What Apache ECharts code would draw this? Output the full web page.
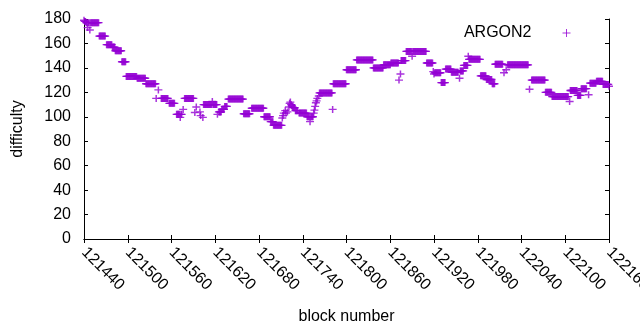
<!DOCTYPE html>
<html>
<head>
<meta charset="utf-8">
<script src="https://cdn.jsdelivr.net/npm/echarts@6/dist/echarts.min.js"></script>
<style>
    html, body { margin: 0; padding: 0; background: #fff; }
    #main { width: 640px; height: 330px; }
</style>
</head>
<body>
<div id="main"></div>
<script>
// block numbers on the x axis and the tick values
const firstBlock = 121440
const xTicks = [121440, 121500, 121560, 121620, 121680, 121740, 121800, 121860, 121920, 121980, 122040, 122100, 122160]
const yTicks = [0, 20, 40, 60, 80, 100, 120, 140, 160, 180]
const seriesName = 'ARGON2'

// difficulty of each block, starting at firstBlock (null = no point seen)
const difficulty = [
    179, 178, 178, 177, 177, 173, 177, 177, 171, 177,
    177, 177, 177, 177, 177, 177, 177, 177, 177, 177,
    177, 166, 166, 166, 166, 166, 166, 166, 166, 166,
    null, 159, 159, 159, 159, 159, 159, 159, 159, 157,
    157, 157, 157, 154, 154, 154, 154, 154, 154, 154,
    154, 154, 145, 145, 145, 145, 145, 145, 133, 133,
    133, 133, 133, 133, 133, 133, 133, 133, 133, 133,
    133, 133, 133, 131.5, 131.5, 131.5, 131.5, 131.5, 131.5, 131.5,
    131.5, 131.5, 131.5, 131.5, 131.5, 127, 127, 127, 127, 127,
    127, 127, 127, 127, 127, 127, 127, 127, 127, 115,
    null, null, 122, null, null, null, 115, 115, 115, 115,
    115, 115, 115, 115, 115, 115, null, 111, 111, 111,
    111, 111, 111, 111, 111, null, null, 102, 102, 102,
    102, 102, 99.5, 102, 102, null, 106, null, 115, 115,
    115, 115, 115, 115, 115, 115, 115, 115, 115, 115,
    115, null, 103.5, null, 108, null, null, null, null, 104,
    101, null, null, 99.5, 110, 110, 110, 110, 110, 110,
    110, 110, 110, 110, 110, 110, 112.5, 110, 110, 110,
    110, 110, 110, 102, null, 104, 104, 104, 104, 106,
    106, 106, 106, 108.5, 108.5, 108.5, 108.5, null, 114.5, 114.5,
    114.5, 114.5, 114.5, 114.5, 114.5, 114.5, 114.5, 114.5, 114.5, 114.5,
    114.5, 114.5, 114.5, 114.5, 114.5, 114.5, 114.5, 114.5, 114.5, 102.5,
    102.5, 102.5, 102.5, 102.5, 102.5, 102.5, 102.5, 102.5, null, null,
    107, 107, 107, 107, 107, 107, 107, 107, 107, 107,
    107, 107, 107, 107, 107, 107, 107, 100, 100, 100,
    100, 100, 100, 100, 100, 100, 96, 96, 96, 96,
    93, 93, 93, 93, 93, 93, 93, 93, 93, 93,
    93, 93, 99, 101, 103, null, 105, 103, null, 104,
    null, 108, 111, 112, 110, 109, 108, 107.5, 107.5, 107.5,
    105, 105, 105, 105, null, 103, 103, 103, 103, 103,
    103, 103, 103, 103, 103, 103, 100, 100, 100, 100,
    96, 100, 100, 100, 100, 103, 105.5, 108.5, 111.5, 113,
    115, null, 117, 119.5, 119.5, 119.5, 119.5, 119.5, 119.5, 119.5,
    119.5, 119.5, 119.5, 119.5, 119.5, 119.5, 119.5, 119.5, 119.5, 119.5,
    119.5, 106, 127, 127, 127, 127, 127, 127, 127, 127,
    127, 127, 127, 127, 127, 127, 127, 127, 127, 127,
    138.5, 138.5, 138.5, 138.5, 138.5, 138.5, 138.5, 138.5, 138.5, 138.5,
    138.5, 138.5, 138.5, 138.5, 146.5, 146.5, 146.5, 146.5, 146.5, 146.5,
    146.5, 146.5, 146.5, 146.5, 146.5, 146.5, 146.5, 146.5, 146.5, 146.5,
    146.5, 146.5, 146.5, 146.5, 146.5, 146.5, 146.5, 140, 140, 140,
    140, 140, 140, 140, 140, 140, 140, 140, 140, 140,
    140, 142.5, 142.5, 142.5, 142.5, 142.5, 142.5, 142.5, 142.5, 142.5,
    142.5, 144, 144, 144, 144, 144, 144, 144, 144, 144,
    144, 144, 130, null, 135, 146, 146, 146, 146, 146,
    146, 146, 153.5, 153.5, 153.5, 153.5, 153.5, 153.5, 153.5, 153.5,
    149.5, 153.5, 153.5, 153.5, 153.5, 153.5, 153.5, 153.5, 153.5, 153.5,
    153.5, 153.5, 153.5, 153.5, 153.5, 153.5, 153.5, 153.5, 153.5, 153.5,
    144, 144, 144, 144, 144, 144, 144, 144, 144, 137,
    135, 136, 136, 136, 136, 136, 136, 136, 136, 136,
    128, 128, 128, 128, 128, 128, 139, 139, 139, 139,
    139, 139, 139, 139, 136.5, 136.5, 136.5, 136.5, 136.5, 136.5,
    136.5, 136.5, 136.5, 136.5, null, 131.5, 137.5, 137.5, 137.5, 137.5,
    137.5, 142, 142, 142, 142, 142, 142, 149.5, 147, 147,
    147, 147, 147, 147, 147, 147, 147, 147, 147, 147,
    147, 147, 147, 147, 133.5, 133.5, 133.5, 133.5, 133.5, 133.5,
    133.5, 133.5, 130.5, 130.5, 130.5, 130.5, 130.5, 130.5, 130.5, 130.5,
    127, 127, 127, 127, 143, 143, 143, 143, 143, 143,
    143, 143, 143, 143, 143, null, 136, null, null, 138.5,
    null, 142.5, 142.5, 142.5, 142.5, 142.5, 142.5, 142.5, 142.5, 142.5,
    142.5, 142.5, 142.5, 142.5, 142.5, 142.5, 142.5, 142.5, 142.5, 142.5,
    142.5, 142.5, 142.5, 142.5, 142.5, 142.5, 142.5, 142.5, 142.5, 142.5,
    null, 122.5, null, null, 130, 130, 130, 130, 130, 130,
    130, 130, 130, 130, 130, 130, 130, 130, 130, 130,
    130, 130, 130, 120, 120, 120, 120, 120, 120, 120,
    120, 120, 116.5, 116.5, 116.5, 116.5, 116.5, 116.5, 116.5, 116.5,
    116.5, 116.5, 116.5, 116.5, 116.5, 116.5, 116.5, 116.5, 116.5, 116.5,
    116.5, 116.5, 116.5, 116.5, 116.5, null, 112.5, 121.5, 121.5, 121.5,
    121.5, 121.5, 121.5, 121.5, 121.5, 121.5, 121.5, 117.5, 117.5, 117.5,
    117.5, 117.5, 123, 123, 123, 123, 123, 123, 123, 123,
    null, null, 118, null, 127.5, 127.5, 127.5, 127.5, 127.5, 127.5,
    127.5, 127.5, 127.5, 129, 129, 129, 129, 129, 129, 129,
    129, 129, 126.5, 126.5, 126.5, 126.5, 126.5, 126.5, 126.5, 126.5,
    125
]

const FONT = 'Liberation Sans, Arial, sans-serif'
const PURPLE = '#9400d3'
const PLUS = 'path://M0,4L8,4M4,0L4,8'

function renderChart() {
    var chartDom = document.getElementById('main')
    var myChart = echarts.init(chartDom, null, { renderer: 'canvas' })

    let points = []
    difficulty.forEach((v, i) => {
        if (v !== null) points.push([firstBlock + i, v])
    })

    let xMin = xTicks[0]
    let xMax = xTicks[xTicks.length - 1]
    let xStep = xTicks[1] - xTicks[0]
    let yMin = yTicks[0]
    let yMax = yTicks[yTicks.length - 1]
    let yStep = yTicks[1] - yTicks[0]

    let tick = { show: true, inside: true, length: 4, lineStyle: { color: '#000', width: 1 } }
    let line = { show: true, lineStyle: { color: '#000', width: 1 } }

    var option = {
        animation: false,
        backgroundColor: '#fff',
        textStyle: { fontFamily: FONT },
        grid: {
            left: 84,
            right: 31,
            top: 19,
            bottom: 91,
            containLabel: false,
            outerBoundsMode: 'none',
        },
        legend: {
            data: [seriesName],
            right: 64,
            top: 20,
            align: 'right',
            icon: PLUS,
            itemWidth: 8,
            itemHeight: 8,
            itemStyle: { color: 'transparent', borderColor: PURPLE, borderWidth: 1 },
            textStyle: { fontSize: 16, color: '#000', fontFamily: FONT, padding: [0, 26, 0, 0] },
        },
        xAxis: [
            {
                type: 'value',
                min: xMin,
                max: xMax,
                interval: xStep,
                name: 'block number',
                nameLocation: 'middle',
                nameGap: 70,
                nameTextStyle: { fontSize: 16, color: '#000', fontFamily: FONT },
                axisLine: line,
                axisTick: tick,
                splitLine: { show: false },
                axisLabel: {
                    rotate: -45,
                    fontSize: 16,
                    color: '#000',
                    fontFamily: FONT,
                    margin: 11,
                    formatter: (v) => String(v),
                    showMaxLabel: true,
                    showMinLabel: true,
                },
            },
            {
                type: 'value',
                position: 'top',
                min: xMin,
                max: xMax,
                interval: xStep,
                axisLine: line,
                axisTick: tick,
                axisLabel: { show: false },
                splitLine: { show: false },
            },
        ],
        yAxis: [
            {
                type: 'value',
                min: yMin,
                max: yMax,
                interval: yStep,
                name: 'difficulty',
                nameLocation: 'middle',
                nameGap: 58,
                nameRotate: 90,
                nameTextStyle: { fontSize: 16, color: '#000', fontFamily: FONT },
                axisLine: line,
                axisTick: tick,
                splitLine: { show: false },
                axisLabel: { fontSize: 16, color: '#000', fontFamily: FONT, margin: 13 },
            },
            {
                type: 'value',
                position: 'right',
                min: yMin,
                max: yMax,
                interval: yStep,
                axisLine: line,
                axisTick: tick,
                axisLabel: { show: false },
                splitLine: { show: false },
            },
        ],
        series: [
            {
                name: seriesName,
                type: 'scatter',
                data: points,
                symbol: PLUS,
                symbolSize: [8, 7],
                clip: false,
                itemStyle: { color: 'transparent', borderColor: PURPLE, borderWidth: 1.4 },
                emphasis: { disabled: true },
            },
        ],
    }
    option && myChart.setOption(option)
}

renderChart()
</script>
</body>
</html>
